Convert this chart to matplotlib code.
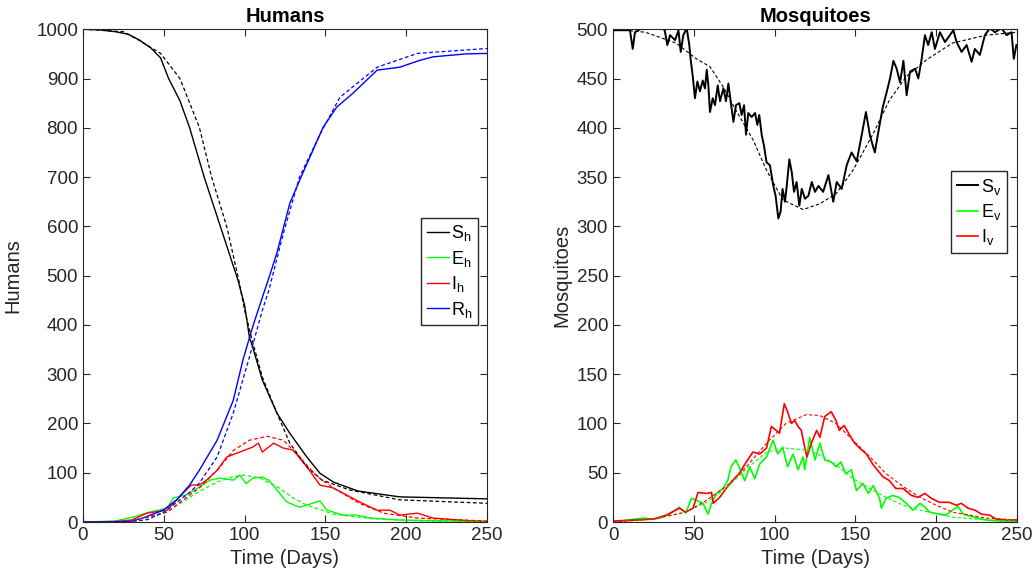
import numpy as np
import matplotlib; matplotlib.use('Agg'); import matplotlib.pyplot as plt

plt.rcParams.update({'font.family':'Liberation Sans','font.size':13.5,
                     'axes.edgecolor':'#262626','xtick.color':'#262626','ytick.color':'#262626',
                     'axes.labelcolor':'#262626','xtick.direction':'in','ytick.direction':'in',
                     'xtick.top':True,'ytick.right':True,'xtick.major.size':5,'ytick.major.size':5,
                     'legend.fontsize':13})

# ---------------- humans: stochastic (solid) and deterministic (dashed) ----------------
t_Sh = [0,10,20,28,35,42,48,53,60,66,75,85,92,96,100,103,105,111,120,128,138.5,146.6,155,170,196,250]
Sh   = [1000,999,995,990,978,962,942,900,855,800,700,600,530,490,440,375,355,288,221,180,132,99,81,63,51,47]
t_Sh_d = [0,25,35,48,60,72,79.6,89,96,100,105,111,120,128,138.5,148,165,196,250]
Sh_d   = [1000,995,977,951,900,801,700,599,497,430,365,294,221,160,112,85,65,45,38]

t_Rh = [0,20,30,37,49.6,58,66,72,83,93,99,105,111,114,120,128,136,148.6,157,167,182,196,208.5,216.6,237,250]
Rh   = [0,0,2,8,24,45,75,105,166,247,329,396,456,485,546,647,708,801,842,870,917,923,937,944,950,951]
t_Rh_d = [0,30,40,50,60,66,72,83,93,103,111,115,124,134,147,159,182,207,250]
Rh_d   = [0,1,5,20,45,60,79,132,221,335,430,470,586,700,789,862,923,951,961]

t_Ih = [0,20,30,39.6,52,62,67,72,76.5,83,89,97,105,108.5,111,118,124,130,138.5,146.6,155,163,171,182,190,196,207,216.6,237,250]
Ih   = [0,1,4,18,24,59,75,75,85,105,132,142,152,160,142,160,150,146,112,75,69,55,41,24,24,14,18,8,3,1]
t_Ih_d = [0,20,30,40,52,62,72,83,93,103,114,124,134,145,155,171,186,207,250]
Ih_d   = [0,1,3,10,20,45,69,105,145,166,174,166,132,92,69,38,18,8,2]

t_Eh = [0,20,31,41,52,56,64,72,78.6,85,93,97,101,105,111,115,120,126,134,142,146.6,151,161,169,178,196,250]
Eh   = [0,2,10,20,28,49,55,71,85,89,85,95,78,89,91,85,65,41,30,38,43,24,14,14,8,4,1]
t_Eh_d = [0,20,30,40,52,62,72,83,93,99,109,120,130,138,155,178,210,250]
Eh_d   = [0,1,3,9,20,42,62,81,92,95,90,72,49,35,16,7,2,1]

# ---------------- mosquitoes ----------------
t_Sv = [0,10.5,12.2,13.6,20,27,32,33.6,35.3,38.4,40.5,41.9,43.5,45.6,47.2,48,49.3,50.7,52.2,53.8,55.5,56.9,
        58,59,60,61.7,63.1,64.8,66.2,68.3,69.9,71.4,72.8,74.5,76.1,78.2,79.6,81.1,82.3,83.7,85.8,87.9,89.3,
        90.5,92,93.4,95,97.1,99.2,100.6,102.3,103.7,104.9,106.4,107.5,109.1,110.6,112,113.6,115.3,116.8,
        118.8,120.9,123,125,127.1,130,133.3,136.3,138.4,141.5,144.6,147.6,150.8,153.8,156.5,159,162,164.2,
        166.8,169.3,171.4,173.5,175.5,177.6,179.7,181.7,183.8,186.9,188.9,191,193,195,197.2,199.2,202.3,
        205.4,210.6,212.6,215.7,218.8,221.9,223.9,227,230.1,233.2,236.3,240.4,243.5,246.6,248,249.6]
Sv   = [499,499,480,497,503,504,499,484,494,489,499,477,494,501,484,470,453,430,447,437,448,440,
        459,443,416,430,423,443,427,440,427,445,427,406,423,425,413,423,393,415,411,415,403,
        413,393,382,365,362,341,331,308,315,338,325,341,368,355,335,345,321,338,
        328,331,345,335,341,335,352,325,345,338,362,375,366,392,416,392,375,396,
        420,436,450,468,460,446,468,433,457,460,450,470,494,484,497,480,497,
        487,499,487,477,484,467,480,474,494,501,497,501,494,497,470,484]
t_Sv_d = [0,20,39,51.6,60,68,76,86.6,95,105,117.6,128,138,148.5,161,171,181.5,194,210,231,250]
Sv_d   = [500,497,486,470,462,442,418,388,357,327,317,323,333,357,394,428,452,469,486,494,497]

t_Iv = [0,14.4,25,33,41,45,49.5,52.6,57.8,61,62,66,70,74,78,82.5,86.6,90.8,95,98,101,103,106,108,110.4,112.4,
        114.5,116.5,118.6,120,122.7,126,128,131,135,138,140,143,146.5,149.5,152.6,156.8,161,164,167,171,175,
        179.5,184.6,188.7,193,197,202,208,212.5,215.5,219.7,224,228,233,237,243,250]
Iv   = [1,2,3,7,14,10,14,30,29,30,19,25,34,42,49,61,71,69,75,97,93,90,120,112,100,103,
        97,93,76,66,80,93,86,107,112,103,93,98,88,80,75,69,58,52,46,42,34,
        34,27,25,29,24,20,20,17,19,14,12,8,7,3,2,2]
t_Iv_d = [0,25,45,57.8,70,82.5,95,107,119.6,128,138,148.5,159,169,179.5,190,200,210,231,250]
Iv_d   = [0,3,10,22,36,56,80,100,109,108,100,83,66,49,36,25,17,10,4,2]

t_Ev = [0,18.6,25,29,35,41,45,48.5,51.6,55.7,58.8,61,64,68,71,73,76,78,81.5,84.6,87.7,90.8,95,99,102,105,108,
        111.4,114.5,117.6,118.6,121.7,125,128,131,135,138,141,144,147.5,150.6,154.7,158,161,165,166,169,173,
        177,181.5,185.6,190,193,196,202,206,210,213.5,216.6,223,231,239,250]
Ev   = [0,4,3,4,8,15,9,24,22,19,8,19,29,34,42,56,63,56,42,56,44,59,66,83,69,76,56,
        69,53,66,53,86,63,80,63,61,56,61,49,53,32,39,29,37,24,14,24,27,
        25,19,12,19,15,10,8,7,12,16,8,5,2,1,1]
t_Ev_d = [0,25,45,58,70,82.5,95,107,120,128,138,148.5,159,169,179.5,190,210,231,250]
Ev_d   = [0,3,10,20,34,54,71,75,73,68,58,44,34,25,17,12,5,2,1]

K, G, R, B = 'k', '#00ff00', '#ff0000', '#0000ff'

fig = plt.figure(figsize=(10.32,5.77), dpi=100)
ax1 = fig.add_axes([0.0804,0.0953,0.3915,0.854])
ax2 = fig.add_axes([0.594,0.0953,0.3915,0.854])
leg_kw = dict(loc='upper right', handlelength=1.2, handletextpad=0.15, labelspacing=0.3,
              borderpad=0.3, borderaxespad=0, fancybox=False, edgecolor='#262626', framealpha=1)

# humans
ax1.plot(t_Sh, Sh, color=K, lw=1.0, label=r'S$_\mathregular{h}$')
ax1.plot(t_Eh, Eh, color=G, lw=1.0, label=r'E$_\mathregular{h}$')
ax1.plot(t_Ih, Ih, color=R, lw=1.0, label=r'I$_\mathregular{h}$')
ax1.plot(t_Rh, Rh, color=B, lw=1.0, label=r'R$_\mathregular{h}$')
for tt, yy, c in [(t_Sh_d,Sh_d,K),(t_Eh_d,Eh_d,G),(t_Ih_d,Ih_d,R),(t_Rh_d,Rh_d,B)]:
    ax1.plot(tt, yy, color=c, lw=0.9, ls=(0,(3,2)))
ax1.set_xlim(0,250); ax1.set_ylim(0,1000)
ax1.set_xticks([0,50,100,150,200,250]); ax1.set_yticks(range(0,1001,100))
ax1.set_xlabel('Time (Days)', fontsize=14.5); ax1.set_ylabel('Humans', fontsize=14.5, labelpad=10)
ax1.set_title('Humans', fontweight='bold', fontsize=14.5, color='k', pad=5)
ax1.legend(bbox_to_anchor=(0.978,0.617), **leg_kw)

# mosquitoes
ax2.plot(t_Sv, Sv, color=K, lw=1.4, label=r'S$_\mathregular{v}$')
ax2.plot(t_Ev, Ev, color=G, lw=1.2, label=r'E$_\mathregular{v}$')
ax2.plot(t_Iv, Iv, color=R, lw=1.2, label=r'I$_\mathregular{v}$')
for tt, yy, c in [(t_Sv_d,Sv_d,K),(t_Ev_d,Ev_d,G),(t_Iv_d,Iv_d,R)]:
    ax2.plot(tt, yy, color=c, lw=0.8, ls=(0,(3,2)))
ax2.set_xlim(0,250); ax2.set_ylim(0,500)
ax2.set_xticks([0,50,100,150,200,250]); ax2.set_yticks(range(0,501,50))
ax2.set_xlabel('Time (Days)', fontsize=14.5); ax2.set_ylabel('Mosquitoes', fontsize=14.5)
ax2.set_title('Mosquitoes', fontweight='bold', fontsize=14.5, color='k', pad=5)
ax2.legend(bbox_to_anchor=(0.975,0.712), **leg_kw)

fig.savefig('out.png', dpi=100)
